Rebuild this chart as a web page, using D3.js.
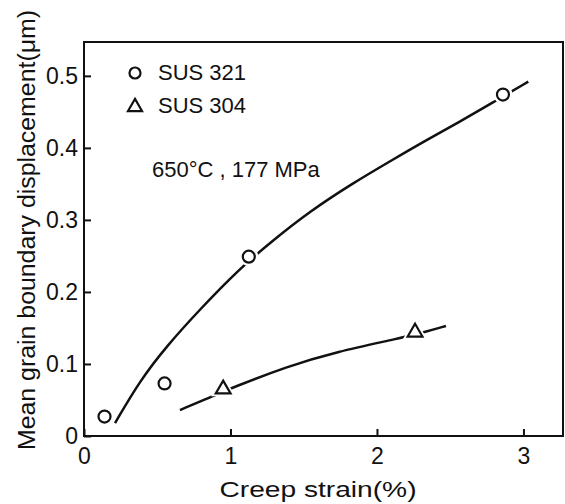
<!DOCTYPE html>
<html>
<head>
<meta charset="utf-8">
<script src="https://cdn.jsdelivr.net/npm/d3@7"></script>
<style>
  body { margin: 0; background: #fff; }
  text { font-family: "Liberation Sans", Arial, sans-serif; fill: #111; }
</style>
</head>
<body>
<svg id="chart" width="565" height="504"></svg>
<script>
// data
const sus321Strain = [0.14, 0.55, 1.125, 2.86];
const sus321Disp = [0.027, 0.073, 0.249, 0.474];
const sus304Strain = [0.95, 2.26];
const sus304Disp = [0.065, 0.144];

// hand-drawn trend curves
const fit321Strain = [0.212, 0.382, 0.565, 0.792, 1.065, 1.292, 1.543, 1.827, 2.111, 2.339, 2.567, 2.783, 3.033];
const fit321Disp = [0.018, 0.077, 0.125, 0.176, 0.233, 0.272, 0.312, 0.350, 0.384, 0.411, 0.4365, 0.462, 0.492];
const fit304Strain = [0.655, 0.86, 1.019, 1.383, 1.724, 2.157, 2.339, 2.471];
const fit304Disp = [0.036, 0.0537, 0.0676, 0.0963, 0.117, 0.1357, 0.145, 0.1528];

const xTicks = [0, 1, 2, 3];
const yTicks = [0, 0.1, 0.2, 0.3, 0.4, 0.5];

const margin = {left: 84, top: 42, right: 2, bottom: 68};
const width = 565, height = 504;
const svg = d3.select("#chart");

const x = d3.scaleLinear().domain([0, 3.27]).range([margin.left, width - margin.right]);
const y = d3.scaleLinear().domain([0, 0.547]).range([height - margin.bottom, margin.top]);

// axes, ticks pointing inward
svg.append("g")
    .attr("transform", `translate(0,${y(0)})`)
    .call(d3.axisBottom(x).tickValues(xTicks).tickFormat(d3.format("d"))
        .tickSizeInner(-7).tickSizeOuter(0).tickPadding(12))
    .call(g => g.select(".domain").remove())
    .call(g => g.selectAll("line").attr("stroke", "#111").attr("stroke-width", 2))
    .call(g => g.selectAll("text").attr("font-size", 23).attr("font-family", null));

svg.append("g")
    .attr("transform", `translate(${x(0)},0)`)
    .call(d3.axisLeft(y).tickValues(yTicks).tickFormat(d => d === 0 ? "0" : d.toFixed(1))
        .tickSizeInner(-7).tickSizeOuter(0).tickPadding(6))
    .call(g => g.select(".domain").remove())
    .call(g => g.selectAll("line").attr("stroke", "#111").attr("stroke-width", 2))
    .call(g => g.selectAll("text").attr("font-size", 23).attr("font-family", null));

// frame
svg.append("rect")
    .attr("x", x(0)).attr("y", margin.top)
    .attr("width", width - margin.right - x(0))
    .attr("height", y(0) - margin.top)
    .attr("fill", "none").attr("stroke", "#111").attr("stroke-width", 2);

// trend curves
const line = d3.line().x(d => x(d[0])).y(d => y(d[1])).curve(d3.curveBasis);
[[fit321Strain, fit321Disp], [fit304Strain, fit304Disp]].forEach(([xs, ys]) => {
    svg.append("path")
        .attr("d", line(xs.map((v, i) => [v, ys[i]])))
        .attr("fill", "none").attr("stroke", "#111").attr("stroke-width", 2.5);
});

// markers (white halo leaves a gap in the curve)
const tri = d3.symbol(d3.symbolTriangle);
sus321Strain.forEach((v, i) => {
    svg.append("circle").attr("cx", x(v)).attr("cy", y(sus321Disp[i])).attr("r", 9.5).attr("fill", "#fff");
    svg.append("circle").attr("cx", x(v)).attr("cy", y(sus321Disp[i])).attr("r", 6)
        .attr("fill", "#fff").attr("stroke", "#111").attr("stroke-width", 2.2);
});
sus304Strain.forEach((v, i) => {
    svg.append("path").attr("d", tri.size(260)())
        .attr("transform", `translate(${x(v)},${y(sus304Disp[i])})`).attr("fill", "#fff");
    svg.append("path").attr("d", tri.size(95)())
        .attr("transform", `translate(${x(v)},${y(sus304Disp[i])})`)
        .attr("fill", "#fff").attr("stroke", "#111").attr("stroke-width", 2.2);
});

// legend
svg.append("circle").attr("cx", 135).attr("cy", 73).attr("r", 5.5)
    .attr("fill", "none").attr("stroke", "#111").attr("stroke-width", 2.2);
svg.append("text").attr("x", 158).attr("y", 80).attr("font-size", 22).text("SUS 321");
svg.append("path").attr("d", tri.size(85)()).attr("transform", "translate(135,107)")
    .attr("fill", "none").attr("stroke", "#111").attr("stroke-width", 2.2);
svg.append("text").attr("x", 158).attr("y", 113).attr("font-size", 22).text("SUS 304");

svg.append("text").attr("x", 152).attr("y", 177).attr("font-size", 22).text("650°C , 177 MPa");

// axis titles
svg.append("text")
    .attr("x", 318).attr("y", 497)
    .attr("text-anchor", "middle").attr("font-size", 22)
    .attr("textLength", 197).attr("lengthAdjust", "spacingAndGlyphs")
    .text("Creep strain(%)");

svg.append("text")
    .attr("transform", "translate(35,230) rotate(-90)")
    .attr("text-anchor", "middle").attr("font-size", 23)
    .attr("textLength", 440).attr("lengthAdjust", "spacingAndGlyphs")
    .text("Mean grain boundary displacement(μm)");
</script>
</body>
</html>
